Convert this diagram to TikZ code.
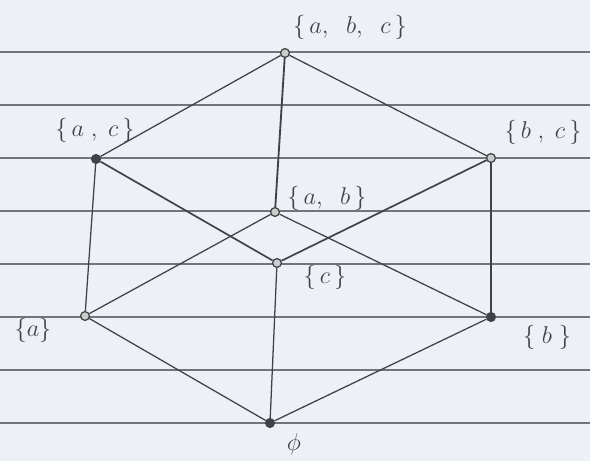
\documentclass[tikz,border=0pt]{standalone}
\usepackage{amsmath,amssymb}
\usepackage{tikz}
\usetikzlibrary{positioning,calc}
\usepackage{xcolor}
\definecolor{paper}{RGB}{238,240,247}
\definecolor{pencil}{RGB}{65,65,72}
\definecolor{rule}{RGB}{115,115,124}

\begin{document}
\begin{tikzpicture}[
    elem/.style={circle,draw=pencil,fill=gray!40,line width=0.9pt,inner sep=0pt,minimum size=0.22cm},
    cover/.style={draw=pencil,line width=0.9pt},
    setname/.style={font=\LARGE,text=pencil}]

\useasboundingbox[fill=paper] (0,0) rectangle (14.75,11.525);

% ruled paper
\foreach \i in {0,...,7} {
    \draw[rule,line width=0.8pt] (0,0.95+1.325*\i) -- (14.75,0.95+1.325*\i);
}

% elements of the power set
\node[elem] (abc) at (7.125,10.2) {};
\node[elem,fill=pencil] (ac) at (2.4,7.55) {};
\node[elem] (bc) at (12.275,7.575) {};
\node[elem] (ab) at (6.875,6.225) {};
\node[elem] (c) at (6.925,4.95) {};
\node[elem] (a) at (2.125,3.625) {};
\node[elem,fill=pencil] (b) at (12.275,3.6) {};
\node[elem,fill=pencil] (e) at (6.75,0.95) {};

% labels
\node[setname] (l-abc) at (8.75,10.85) {$\{\,a,\;\;b,\;\;c\,\}$};
\node[setname] (l-ac) at (2.375,8.275) {$\{\,a\;,\;c\,\}$};
\node[setname] (l-bc) at (13.575,8.225) {$\{\,b\;,\;c\,\}$};
\node[setname] (l-ab) at (8.175,6.575) {$\{\,a,\;\;b\,\}$};
\node[setname] (l-c) at (8.125,4.6) {$\{\,c\,\}$};
\node[setname] (l-a) at (0.825,3.275) {$\{a\}$};
\node[setname] (l-b) at (13.675,3.1) {$\{\;b\;\}$};
\node[setname] (l-e) at (7.35,0.425) {$\phi$};

% cover relation
\draw[cover] (abc) -- (ac);
\draw[cover] (abc) -- (bc);
\draw[cover,line width=1.3pt] (abc) -- (ab);
\draw[cover] (ac) -- (a);
\draw[cover,line width=1.2pt] (ac) -- (c);
\draw[cover] (bc) -- (b);
\draw[cover,line width=1.2pt] (bc) -- (c);
\draw[cover] (ab) -- (a);
\draw[cover] (ab) -- (b);
\draw[cover] (a) -- (e);
\draw[cover] (b) -- (e);
\draw[cover] (c) -- (e);

\end{tikzpicture}
\end{document}
